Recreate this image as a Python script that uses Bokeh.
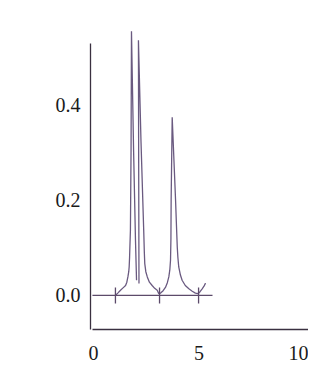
from bokeh.plotting import figure
from bokeh.models import Range1d, FixedTicker
from bokeh.embed import file_html
from bokeh.resources import INLINE

# Peak 1 branch
peak1_x = [1.04, 1.15, 1.28, 1.40, 1.52, 1.58, 1.63, 1.67, 1.69, 1.71, 1.72, 1.75, 1.78, 1.80,
           1.90, 1.99, 2.04]
peak1_y = [0.000, 0.005, 0.011, 0.016, 0.021, 0.028, 0.039, 0.050, 0.060, 0.080, 0.095, 0.137, 0.305, 0.556,
           0.305, 0.116, 0.032]

# Peak 2 / peak 3 branch
peak2_x = [2.156, 2.14, 2.13, 2.25, 2.38, 2.41, 2.43, 2.48, 2.55, 2.65, 2.78, 2.90, 3.02, 3.09,
           3.18, 3.30, 3.41, 3.50, 3.57, 3.62, 3.65, 3.67, 3.68, 3.73,
           3.89, 3.93, 3.97, 4.00, 4.04, 4.12, 4.20, 4.35, 4.52, 4.68, 4.83, 4.96,
           5.05, 5.15, 5.23, 5.31]
peak2_y = [0.025, 0.305, 0.537, 0.326, 0.137, 0.090, 0.067, 0.050, 0.039, 0.028, 0.021, 0.015, 0.011, 0.004,
           0.005, 0.010, 0.017, 0.027, 0.039, 0.055, 0.074, 0.120, 0.200, 0.375,
           0.200, 0.150, 0.102, 0.080, 0.060, 0.043, 0.032, 0.021, 0.014, 0.009, 0.005, 0.004,
           0.008, 0.014, 0.019, 0.026]

# Baseline and its cross marks
baseline_x = [-0.05, 5.64]
baseline_y = [0.0, 0.0]
mark_x = [1.04, 3.13, 4.98]

x_ticks = [0, 5, 10]
y_ticks = [0.0, 0.2, 0.4]
y_labels = {0.0: "0.0", 0.2: "0.2", 0.4: "0.4"}

curve_color = "#6a5a80"
axis_color = "#3a3040"
text_color = "#1a1a1a"
font = "Liberation Serif"

p = figure(width=308, height=371, output_backend="svg", toolbar_location=None,
           x_range=Range1d(-0.142, 10.19), y_range=Range1d(-0.0716, 0.568),
           min_border_left=90, min_border_right=0, min_border_top=25, min_border_bottom=42)
p.outline_line_color = None
p.grid.visible = False
p.background_fill_color = "white"
p.border_fill_color = "white"

p.line(peak1_x, peak1_y, line_color=curve_color, line_width=1.3)
p.line(peak2_x, peak2_y, line_color=curve_color, line_width=1.3)
p.line(baseline_x, baseline_y, line_color="#5c4a6a", line_width=1.3)
p.segment(x0=mark_x, y0=[-0.017] * len(mark_x), x1=mark_x, y1=[0.017] * len(mark_x),
          line_color="#5c4a6a", line_width=1.3)

xa = p.xaxis[0]
xa.ticker = FixedTicker(ticks=x_ticks)
xa.bounds = (-0.05, 10.19)
xa.axis_line_color = axis_color
xa.axis_line_width = 1.3
xa.major_tick_line_color = None
xa.minor_tick_line_color = None
xa.major_label_standoff = 10
xa.major_label_text_font = font
xa.major_label_text_font_size = "20px"
xa.major_label_text_color = text_color

ya = p.yaxis[0]
ya.ticker = FixedTicker(ticks=y_ticks)
ya.major_label_overrides = y_labels
ya.bounds = (-0.0716, 0.531)
ya.axis_line_color = axis_color
ya.axis_line_width = 1.3
ya.major_tick_line_color = None
ya.minor_tick_line_color = None
ya.major_label_standoff = 4
ya.major_label_text_font = font
ya.major_label_text_font_size = "20px"
ya.major_label_text_color = text_color

open("out.html", "w").write(file_html(p, INLINE))
